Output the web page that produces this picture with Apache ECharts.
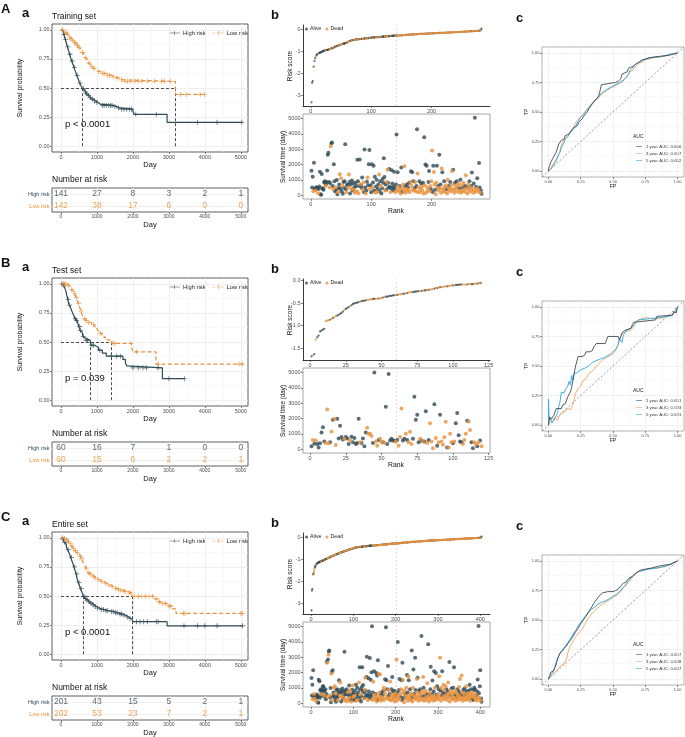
<!DOCTYPE html>
<html><head><meta charset="utf-8">
<script src="https://cdn.jsdelivr.net/npm/echarts@6/dist/echarts.min.js"></script>
<style>html,body{margin:0;padding:0;background:#fff;}#chart{width:685px;height:737px;}</style>
</head><body><div id="chart"></div>
<script>
// ---------------- DATA ----------------
const kmTitles = ['Training set', 'Test set', 'Entire set'];
const pLabels = ['p < 0.0001', 'p = 0.039', 'p < 0.0001'];
const medianHigh = [600, 815, 625];
const medianLow = [3180, 1410, 1980];
const cutRank = [141.5, 60.5, 202.5];
const riskTableTimes = [0, 1000, 2000, 3000, 4000, 5000];
const atRiskHighA = [141, 27, 8, 3, 2, 1], atRiskLowA = [142, 38, 17, 6, 0, 0];
const atRiskHighB = [60, 16, 7, 1, 0, 0], atRiskLowB = [60, 15, 6, 2, 2, 1];
const atRiskHighC = [201, 43, 15, 5, 2, 1], atRiskLowC = [202, 53, 23, 7, 2, 1];
const kmXTicks = [0, 1000, 2000, 3000, 4000, 5000];
const kmYTicks = [0, 0.25, 0.5, 0.75, 1];
const survTicks = [0, 1000, 2000, 3000, 4000, 5000];
const rocTicks = [0, 0.25, 0.5, 0.75, 1];
const rankTicksA = [0, 100, 200], rankTicksB = [0, 25, 50, 75, 100, 125], rankTicksC = [0, 100, 200, 300, 400];
const riskTicksA = [-3, -2, -1, 0], riskTicksB = [-1.5, -1, -0.5, 0], riskTicksC = [-3, -2, -1, 0];
const rocYears = [1, 3, 5];
const aucA = ['0.666', '0.657', '0.652'], aucB = ['0.651', '0.593', '0.631'], aucC = ['0.657', '0.638', '0.647'];

const kmHighA = [[0,1],[20,0.993],[40,0.986],[60,0.972],[80,0.958],[100,0.937],[120,0.916],[140,0.895],[160,0.874],[180,0.853],[200,0.832],[220,0.81],[240,0.79],[260,0.77],[280,0.75],[300,0.732],[320,0.714],[340,0.696],[360,0.678],[380,0.66],[400,0.643],[420,0.626],[440,0.609],[460,0.592],[480,0.575],[500,0.558],[520,0.542],[545,0.526],[570,0.51],[600,0.495],[630,0.48],[660,0.465],[700,0.45],[740,0.435],[790,0.42],[840,0.405],[900,0.39],[960,0.375],[1030,0.362],[1090,0.35],[1470,0.34],[1560,0.33],[1620,0.318],[2000,0.3],[2030,0.274],[2950,0.205],[5030,0.205]];
const censorHighA = [[90,0.958],[130,0.916],[190,0.853],[250,0.79],[310,0.732],[370,0.678],[450,0.609],[530,0.542],[620,0.495],[680,0.465],[720,0.45],[760,0.435],[810,0.42],[870,0.405],[930,0.39],[1000,0.375],[1150,0.35],[1200,0.35],[1260,0.35],[1330,0.35],[1380,0.35],[1420,0.35],[1500,0.34],[1600,0.33],[1680,0.318],[1750,0.318],[1830,0.318],[1900,0.318],[1960,0.318],[2080,0.274],[2650,0.274],[3800,0.205],[4340,0.205],[5030,0.205]];
const kmLowA = [[0,1],[60,0.993],[100,0.979],[150,0.965],[190,0.951],[220,0.937],[260,0.923],[300,0.909],[350,0.895],[400,0.88],[440,0.865],[480,0.85],[520,0.835],[550,0.82],[580,0.805],[610,0.79],[640,0.775],[670,0.76],[700,0.745],[730,0.73],[760,0.715],[800,0.7],[840,0.685],[890,0.67],[940,0.655],[1000,0.64],[1100,0.625],[1250,0.61],[1400,0.595],[1500,0.585],[1620,0.57],[1720,0.557],[3180,0.445],[3990,0.445]];
const censorLowA = [[40,1],[130,0.979],[170,0.965],[240,0.937],[280,0.923],[330,0.909],[380,0.895],[420,0.88],[460,0.865],[500,0.85],[600,0.805],[690,0.76],[780,0.715],[860,0.685],[920,0.67],[1050,0.64],[1150,0.625],[1200,0.625],[1300,0.61],[1350,0.61],[1450,0.595],[1560,0.585],[1680,0.57],[1780,0.557],[1850,0.557],[1930,0.557],[2050,0.557],[2150,0.557],[2250,0.557],[2400,0.557],[2600,0.557],[2800,0.557],[2880,0.557],[3050,0.557],[3320,0.445],[3480,0.445],[3870,0.445],[3990,0.445]];

const kmHighB = [[0,1],[60,0.983],[100,0.967],[120,0.95],[140,0.933],[160,0.9],[175,0.883],[190,0.867],[210,0.833],[230,0.817],[260,0.8],[280,0.783],[300,0.767],[330,0.75],[350,0.733],[370,0.717],[390,0.7],[420,0.683],[450,0.667],[480,0.65],[500,0.633],[530,0.6],[560,0.583],[590,0.566],[610,0.549],[640,0.532],[680,0.515],[815,0.497],[830,0.472],[930,0.455],[1040,0.43],[1150,0.405],[1260,0.378],[1720,0.35],[1790,0.322],[1830,0.294],[1870,0.278],[2820,0.185],[3430,0.185]];
const censorHighB = [[30,1],[80,0.983],[200,0.867],[240,0.817],[400,0.7],[430,0.683],[520,0.633],[545,0.6],[620,0.549],[700,0.515],[730,0.515],[860,0.472],[900,0.472],[1080,0.43],[1400,0.378],[1550,0.378],[1650,0.378],[2000,0.278],[2150,0.278],[2280,0.278],[2380,0.278],[2700,0.278],[3000,0.185],[3430,0.185]];
const kmLowB = [[0,1],[170,0.983],[240,0.966],[280,0.95],[320,0.933],[360,0.916],[400,0.9],[420,0.883],[440,0.866],[460,0.85],[480,0.833],[500,0.816],[520,0.8],[535,0.783],[550,0.766],[570,0.75],[590,0.733],[610,0.716],[640,0.7],[680,0.683],[720,0.666],[850,0.648],[940,0.63],[1000,0.612],[1040,0.594],[1080,0.575],[1140,0.556],[1200,0.537],[1260,0.518],[1410,0.489],[1960,0.455],[2000,0.415],[2640,0.31],[5050,0.31]];
const censorLowB = [[60,1],[100,1],[140,1],[200,0.983],[300,0.95],[380,0.916],[430,0.883],[490,0.833],[560,0.766],[660,0.7],[700,0.683],[760,0.666],[900,0.648],[1100,0.575],[1450,0.489],[1500,0.489],[1950,0.489],[2100,0.415],[2700,0.31],[4950,0.31],[5050,0.31]];

const kmHighC = [[0,1],[30,0.99],[60,0.975],[90,0.96],[120,0.945],[150,0.92],[180,0.9],[210,0.88],[240,0.86],[270,0.83],[300,0.805],[330,0.78],[360,0.75],[390,0.72],[420,0.69],[450,0.645],[480,0.615],[510,0.59],[540,0.565],[570,0.54],[600,0.52],[625,0.498],[660,0.48],[700,0.465],[750,0.452],[800,0.44],[860,0.425],[920,0.41],[990,0.395],[1080,0.383],[1200,0.373],[1350,0.365],[1480,0.355],[1600,0.345],[1720,0.335],[1800,0.32],[1880,0.305],[1960,0.29],[2010,0.279],[2950,0.244],[5050,0.244]];
const censorHighC = [[50,0.99],[110,0.96],[200,0.9],[290,0.83],[380,0.75],[440,0.69],[500,0.615],[560,0.565],[640,0.498],[680,0.48],[720,0.465],[780,0.452],[830,0.44],[890,0.425],[950,0.41],[1020,0.395],[1120,0.383],[1180,0.383],[1250,0.373],[1300,0.373],[1400,0.365],[1450,0.365],[1520,0.355],[1560,0.355],[1640,0.345],[1680,0.345],[1750,0.335],[1840,0.32],[1920,0.305],[2100,0.279],[2200,0.279],[2300,0.279],[2400,0.279],[2650,0.279],[2700,0.279],[3420,0.244],[3800,0.244],[4000,0.244],[4340,0.244],[5050,0.244]];
const kmLowC = [[0,1],[80,0.995],[130,0.985],[180,0.97],[230,0.95],[280,0.93],[330,0.91],[380,0.89],[430,0.87],[480,0.855],[520,0.84],[560,0.82],[600,0.8],[630,0.78],[660,0.76],[690,0.74],[720,0.72],[750,0.7],[800,0.685],[860,0.67],[920,0.655],[990,0.64],[1080,0.625],[1180,0.61],[1280,0.595],[1380,0.58],[1470,0.565],[1560,0.552],[1700,0.54],[1850,0.525],[1980,0.497],[2600,0.475],[2700,0.45],[2780,0.435],[2950,0.414],[3100,0.39],[3200,0.35],[5050,0.35]];
const censorLowC = [[40,1],[100,0.995],[150,0.985],[200,0.97],[260,0.95],[310,0.93],[350,0.91],[400,0.89],[460,0.87],[540,0.84],[580,0.82],[710,0.74],[780,0.7],[830,0.685],[900,0.67],[950,0.655],[1030,0.64],[1130,0.625],[1230,0.61],[1330,0.595],[1420,0.58],[1520,0.565],[1600,0.552],[1650,0.552],[1750,0.54],[1800,0.54],[1900,0.525],[1950,0.525],[2050,0.497],[2150,0.497],[2250,0.497],[2350,0.497],[2450,0.497],[2550,0.497],[2650,0.475],[2740,0.45],[2830,0.435],[2900,0.435],[3000,0.414],[3050,0.414],[3400,0.35],[3450,0.35],[5000,0.35],[5050,0.35]];

const riskScoreA = [
-3.33,-2.44,-2.36,-1.72,-1.70,-1.45,-1.33,-1.25,-1.20,-1.16,
-1.13,-1.11,-1.10,-1.08,-1.07,-1.06,-1.05,-1.03,-1.02,-1.00,
-0.99,-0.98,-0.97,-0.97,-0.96,-0.95,-0.95,-0.94,-0.93,-0.92,
-0.91,-0.90,-0.89,-0.88,-0.87,-0.86,-0.85,-0.84,-0.82,-0.80,
-0.79,-0.78,-0.77,-0.76,-0.75,-0.74,-0.73,-0.72,-0.71,-0.70,
-0.69,-0.68,-0.67,-0.66,-0.66,-0.65,-0.64,-0.63,-0.62,-0.61,
-0.59,-0.57,-0.56,-0.54,-0.53,-0.52,-0.51,-0.51,-0.50,-0.50,
-0.49,-0.49,-0.48,-0.48,-0.47,-0.47,-0.47,-0.46,-0.46,-0.46,
-0.45,-0.45,-0.45,-0.44,-0.44,-0.44,-0.43,-0.43,-0.43,-0.42,
-0.42,-0.42,-0.42,-0.41,-0.41,-0.41,-0.40,-0.40,-0.40,-0.39,
-0.39,-0.39,-0.38,-0.38,-0.38,-0.38,-0.37,-0.37,-0.37,-0.37,
-0.36,-0.36,-0.36,-0.36,-0.35,-0.35,-0.35,-0.35,-0.34,-0.34,
-0.34,-0.34,-0.33,-0.33,-0.33,-0.33,-0.33,-0.32,-0.32,-0.32,
-0.32,-0.31,-0.31,-0.31,-0.31,-0.31,-0.30,-0.30,-0.30,-0.30,
-0.30,-0.30,-0.29,-0.29,-0.29,-0.29,-0.29,-0.28,-0.28,-0.28,
-0.28,-0.28,-0.27,-0.27,-0.27,-0.27,-0.26,-0.26,-0.26,-0.26,
-0.26,-0.25,-0.25,-0.25,-0.25,-0.25,-0.24,-0.24,-0.24,-0.24,
-0.24,-0.235,-0.235,-0.23,-0.23,-0.23,-0.23,-0.225,-0.225,-0.22,
-0.22,-0.22,-0.22,-0.215,-0.215,-0.215,-0.21,-0.21,-0.21,-0.21,
-0.205,-0.205,-0.205,-0.20,-0.20,-0.20,-0.20,-0.20,-0.195,-0.195,
-0.195,-0.19,-0.19,-0.19,-0.19,-0.185,-0.185,-0.185,-0.18,-0.18,
-0.18,-0.18,-0.175,-0.175,-0.175,-0.17,-0.17,-0.17,-0.17,-0.165,
-0.165,-0.165,-0.16,-0.16,-0.16,-0.16,-0.155,-0.155,-0.155,-0.15,
-0.15,-0.15,-0.15,-0.145,-0.145,-0.145,-0.14,-0.14,-0.14,-0.14,
-0.135,-0.135,-0.135,-0.13,-0.13,-0.13,-0.13,-0.125,-0.125,-0.125,
-0.12,-0.12,-0.12,-0.115,-0.115,-0.115,-0.11,-0.11,-0.11,-0.105,
-0.105,-0.105,-0.10,-0.10,-0.10,-0.095,-0.095,-0.095,-0.09,-0.09,
-0.09,-0.085,-0.085,-0.085,-0.08,-0.08,-0.08,-0.075,-0.075,-0.07,
-0.06,-0.04,0.02];
const survTimeA = [
1590,500,1200,250,2110,420,380,300,520,450,
480,120,400,560,1520,60,30,1380,450,420,
350,820,900,600,700,860,1600,2640,2760,850,
500,780,3200,3370,3430,600,400,2020,900,250,
520,350,980,60,180,470,700,1370,420,1100,
250,620,80,850,480,900,3330,380,180,700,
650,500,1350,850,100,700,420,950,300,780,
350,520,150,800,600,250,2310,900,120,600,
2330,700,650,480,1150,350,820,200,2980,500,
100,300,880,1150,650,2020,2940,400,650,180,
2020,500,820,1910,300,1200,150,560,1000,200,
400,700,1350,250,900,600,100,450,1050,800,
2410,1180,300,700,350,850,1650,800,500,1700,
550,200,450,1620,760,300,550,1530,450,200,
700,3960,300,1500,550,250,600,400,100,1800,
200,450,700,300,1880,600,150,400,700,250,
500,350,800,200,850,1560,600,1500,350,900,
300,450,850,250,600,4300,1410,180,500,900,
200,400,750,550,300,800,100,3780,650,2000,
150,1910,500,300,850,1580,250,600,400,900,
2920,200,1910,1510,700,350,50,800,1920,500,
600,300,2630,450,700,150,1740,1500,400,250,
900,550,200,650,380,100,1000,500,600,300,
850,450,250,1580,700,1650,400,150,800,350,
550,900,600,200,750,450,300,1000,150,650,
250,480,800,380,600,200,1300,450,550,100,
700,350,900,250,500,600,1480,400,150,750,
300,5050,200,550,450,1100,350,250,2090,500,
150,300,80];
// 0 = alive, 1 = dead
const statusA = ('0001000100 0100000000 0001000000 1010001000 1000100101 0100000010 0110001000 1010010010 0100011000 1001000100 ' +
'0100001001 0010010000 0010011000 0100000001 0010110110 0111101101 0101101010 1011001110 1101101010 1011001101 ' +
'1001101101 0101011011 0111011101 0111101101 1011101011 1011011101 1101100110 1010101100 100').replace(/ /g, '');

const riskScoreB = [
-1.68,-1.66,-1.63,-1.31,-1.26,-1.22,-1.13,-1.11,-1.09,-1.07,
-0.90,-0.89,-0.88,-0.87,-0.85,-0.83,-0.81,-0.79,-0.78,-0.76,
-0.74,-0.72,-0.69,-0.65,-0.63,-0.61,-0.59,-0.57,-0.55,-0.52,
-0.51,-0.50,-0.49,-0.48,-0.47,-0.46,-0.45,-0.45,-0.44,-0.43,
-0.43,-0.42,-0.42,-0.41,-0.41,-0.41,-0.40,-0.40,-0.40,-0.39,
-0.38,-0.37,-0.36,-0.36,-0.35,-0.34,-0.34,-0.33,-0.33,-0.32,
-0.32,-0.31,-0.31,-0.30,-0.30,-0.29,-0.29,-0.28,-0.27,-0.26,
-0.26,-0.26,-0.25,-0.25,-0.24,-0.24,-0.24,-0.23,-0.23,-0.22,
-0.22,-0.21,-0.21,-0.20,-0.20,-0.19,-0.18,-0.17,-0.17,-0.16,
-0.15,-0.15,-0.14,-0.14,-0.13,-0.13,-0.12,-0.12,-0.11,-0.11,
-0.11,-0.10,-0.10,-0.10,-0.09,-0.09,-0.09,-0.09,-0.09,-0.09,
-0.08,-0.08,-0.08,-0.08,-0.07,-0.07,-0.07,-0.06,-0.06,-0.05];
const survTimeB = [
180,600,350,560,340,110,380,1080,1420,500,
400,2590,380,450,1150,1910,1960,270,1980,700,
1530,790,620,680,790,700,340,560,800,450,
720,340,400,1980,450,400,700,180,1080,1400,
1010,1000,860,400,5000,500,220,600,680,450,
450,420,2770,340,4910,560,680,560,540,500,
600,220,790,2660,560,680,1010,600,450,1130,
340,680,3420,1910,2250,450,680,560,500,500,
2480,400,600,1690,500,50,2930,720,220,450,
2250,500,290,770,1790,100,110,1010,450,380,
500,1690,2360,900,500,450,340,600,1000,1850,
1800,1240,450,50,450,340,180,450,560,180];
const statusB = ('0101000000 1110101100 0001000100 0000100001 1110011011 0100000001 0111001011 1000001010 0101110101 0111101110 ' +
'1000001110 1100110101').replace(/ /g, '');

const riskScoreC = [
-3.33,-2.43,-2.36,-1.71,-1.69,-1.65,-1.55,-1.45,-1.38,-1.32,
-1.28,-1.25,-1.22,-1.20,-1.19,-1.18,-1.16,-1.15,-1.14,-1.13,
-1.12,-1.11,-1.10,-1.10,-1.09,-1.08,-1.07,-1.07,-1.06,-1.05,
-1.04,-1.03,-1.02,-1.01,-1.00,-0.99,-0.98,-0.98,-0.97,-0.96,
-0.95,-0.94,-0.93,-0.92,-0.91,-0.90,-0.89,-0.88,-0.87,-0.86,
-0.85,-0.85,-0.84,-0.83,-0.83,-0.82,-0.81,-0.80,-0.79,-0.78,
-0.77,-0.77,-0.76,-0.75,-0.74,-0.74,-0.73,-0.72,-0.71,-0.70,
-0.69,-0.69,-0.68,-0.67,-0.67,-0.66,-0.65,-0.65,-0.64,-0.63,
-0.62,-0.62,-0.61,-0.61,-0.60,-0.60,-0.59,-0.58,-0.58,-0.57,
-0.56,-0.56,-0.55,-0.55,-0.54,-0.53,-0.53,-0.52,-0.52,-0.51,
-0.50,-0.50,-0.49,-0.49,-0.48,-0.48,-0.47,-0.47,-0.46,-0.46,
-0.46,-0.46,-0.45,-0.45,-0.45,-0.45,-0.44,-0.44,-0.44,-0.44,
-0.43,-0.43,-0.43,-0.43,-0.42,-0.42,-0.42,-0.42,-0.42,-0.41,
-0.41,-0.41,-0.41,-0.41,-0.40,-0.40,-0.40,-0.40,-0.40,-0.40,
-0.39,-0.39,-0.39,-0.39,-0.39,-0.39,-0.39,-0.38,-0.38,-0.38,
-0.38,-0.38,-0.37,-0.37,-0.37,-0.37,-0.37,-0.36,-0.36,-0.36,
-0.36,-0.36,-0.35,-0.35,-0.35,-0.35,-0.35,-0.34,-0.34,-0.34,
-0.34,-0.34,-0.34,-0.33,-0.33,-0.33,-0.33,-0.33,-0.32,-0.32,
-0.32,-0.32,-0.32,-0.32,-0.31,-0.31,-0.31,-0.31,-0.31,-0.31,
-0.30,-0.30,-0.30,-0.30,-0.30,-0.30,-0.30,-0.29,-0.29,-0.29,
-0.29,-0.29,-0.29,-0.28,-0.28,-0.28,-0.28,-0.28,-0.27,-0.27,
-0.27,-0.27,-0.27,-0.26,-0.26,-0.26,-0.26,-0.26,-0.25,-0.25,
-0.25,-0.25,-0.25,-0.25,-0.24,-0.24,-0.24,-0.24,-0.24,-0.23,
-0.23,-0.23,-0.23,-0.23,-0.23,-0.22,-0.22,-0.22,-0.22,-0.22,
-0.22,-0.21,-0.21,-0.21,-0.21,-0.21,-0.21,-0.21,-0.20,-0.20,
-0.20,-0.20,-0.20,-0.20,-0.20,-0.19,-0.19,-0.19,-0.19,-0.19,
-0.19,-0.19,-0.18,-0.18,-0.18,-0.18,-0.18,-0.18,-0.18,-0.17,
-0.17,-0.17,-0.17,-0.17,-0.17,-0.17,-0.17,-0.16,-0.16,-0.16,
-0.16,-0.16,-0.16,-0.16,-0.16,-0.16,-0.15,-0.15,-0.15,-0.15,
-0.15,-0.15,-0.15,-0.15,-0.15,-0.14,-0.14,-0.14,-0.14,-0.14,
-0.14,-0.14,-0.14,-0.13,-0.13,-0.13,-0.13,-0.13,-0.13,-0.13,
-0.13,-0.12,-0.12,-0.12,-0.12,-0.12,-0.12,-0.12,-0.12,-0.12,
-0.11,-0.11,-0.11,-0.11,-0.11,-0.11,-0.11,-0.11,-0.11,-0.10,
-0.10,-0.10,-0.10,-0.10,-0.10,-0.10,-0.10,-0.10,-0.10,-0.09,
-0.09,-0.09,-0.09,-0.09,-0.09,-0.09,-0.09,-0.09,-0.09,-0.09,
-0.09,-0.08,-0.08,-0.08,-0.08,-0.08,-0.08,-0.08,-0.08,-0.08,
-0.08,-0.07,-0.07,-0.07,-0.07,-0.07,-0.07,-0.07,-0.07,-0.07,
-0.06,-0.06,-0.06,-0.06,-0.06,-0.06,-0.06,-0.06,-0.06,-0.05,
-0.05,-0.05,-0.05,-0.05,-0.05,-0.05,-0.05,-0.04,-0.04,-0.04,
-0.04,-0.04,-0.04,-0.04,-0.04,-0.03,-0.03,-0.03,-0.03,-0.03,
-0.02,-0.01,0.02];
const survTimeC = [
1640,500,1200,250,2150,420,600,300,380,450,
480,120,400,560,350,60,30,1530,450,1430,
350,820,900,600,700,860,480,1100,1080,850,
500,780,400,900,250,600,2700,2640,400,2850,
3160,3380,3440,520,350,980,60,1930,2040,180,
2150,470,700,1000,420,1100,250,620,80,850,
480,900,380,180,700,1500,650,500,1350,850,
100,700,420,950,300,780,350,520,3350,150,
800,600,250,900,120,600,700,650,480,1150,
350,820,200,500,100,300,880,1150,650,400,
650,180,500,820,300,1200,150,560,1000,200,
400,700,1350,250,2350,900,600,100,450,1050,
2350,800,1180,300,700,350,850,1650,800,500,
1700,3030,550,200,450,1620,760,300,2940,550,
1530,450,2020,5020,200,700,1400,300,2080,550,
250,600,400,1970,100,1800,200,2800,450,1900,
700,300,1880,600,150,400,700,250,500,350,
800,1000,200,850,1560,600,4960,1500,350,900,
300,2430,450,850,250,600,1410,180,500,900,
200,1710,400,750,550,300,800,100,650,500,
400,2850,150,700,3990,500,300,850,1580,250,
600,400,900,1500,200,2630,1510,700,350,50,
800,500,600,300,1000,450,1840,700,150,1740,
1500,400,250,900,550,200,650,3440,380,100,
1000,2190,500,600,300,2960,850,450,250,1580,
700,1650,400,150,800,350,550,900,600,200,
4390,750,450,300,1710,1000,150,650,250,480,
800,380,600,200,1300,450,3840,550,100,700,
350,900,2370,250,500,600,1480,400,150,750,
2080,300,1000,200,1970,550,450,1100,350,250,
600,900,1750,400,2960,800,150,1000,500,2080,
300,700,1200,450,850,250,600,1100,380,900,
550,200,750,1350,400,650,2680,100,500,800,
300,950,450,600,250,1000,700,2350,350,550,
150,800,400,650,300,900,500,200,750,1050,
450,1580,600,350,250,1800,700,500,150,850,
400,600,950,300,550,200,1100,750,450,650,
250,800,350,500,1200,150,600,900,400,300,
700,550,200,850,450,1000,300,880,600,250,
500,150,750,1540,400,5040,650,300,1100,2150,
150,300,80];
const statusC = ('0001001100 0100000000 0001000000 1000000110 1001000101 0001010100 0001000110 0010001001 0010101000 1100100101 ' +
'0010001001 0010001000 0001001100 0001000000 0000101101 1010100011 1110110101 0111010010 1001101110 1010110110 ' +
'1110011001 1010001101 1101110011 0110111001 1010100111 1011011011 0101101110 1101110011 1001100110 0111001011 ' +
'1011101100 1011110110 1101110101 1011101010 1101101101 1101111010 1101011011 1011011010 1100101011 0100100100 100').replace(/ /g, '');

const rocA1 = [[0,0],[0,0.02],[0.01,0.05],[0.02,0.05],[0.02,0.08],[0.03,0.08],[0.04,0.12],[0.05,0.11],[0.06,0.16],[0.07,0.17],[0.08,0.23],[0.09,0.22],[0.10,0.26],[0.12,0.27],[0.13,0.30],[0.15,0.31],[0.17,0.33],[0.18,0.35],[0.20,0.37],[0.22,0.38],[0.24,0.42],[0.26,0.44],[0.27,0.46],[0.30,0.50],[0.32,0.54],[0.34,0.57],[0.36,0.60],[0.38,0.62],[0.39,0.64],[0.40,0.68],[0.41,0.73],[0.46,0.74],[0.52,0.75],[0.54,0.76],[0.56,0.78],[0.57,0.82],[0.59,0.83],[0.61,0.84],[0.62,0.87],[0.64,0.88],[0.66,0.89],[0.68,0.91],[0.70,0.92],[0.73,0.94],[0.78,0.96],[0.85,0.97],[0.93,0.98],[0.97,0.99],[1,1]];
const rocA3 = [[0,0],[0.01,0.01],[0.02,0.03],[0.03,0.03],[0.05,0.08],[0.06,0.09],[0.08,0.15],[0.09,0.17],[0.10,0.22],[0.11,0.21],[0.13,0.28],[0.15,0.30],[0.17,0.33],[0.19,0.36],[0.21,0.41],[0.22,0.40],[0.24,0.45],[0.27,0.47],[0.29,0.51],[0.32,0.55],[0.34,0.58],[0.36,0.60],[0.38,0.61],[0.40,0.64],[0.45,0.68],[0.48,0.70],[0.50,0.71],[0.53,0.73],[0.55,0.74],[0.57,0.75],[0.59,0.78],[0.61,0.80],[0.63,0.84],[0.65,0.85],[0.66,0.87],[0.68,0.89],[0.70,0.91],[0.75,0.94],[0.82,0.96],[0.90,0.97],[0.96,0.99],[1,1]];
const rocA5 = [[0,0],[0.01,0.01],[0.02,0.02],[0.04,0.05],[0.05,0.07],[0.07,0.11],[0.08,0.14],[0.09,0.16],[0.10,0.20],[0.11,0.19],[0.12,0.24],[0.13,0.27],[0.15,0.29],[0.17,0.33],[0.19,0.35],[0.21,0.38],[0.23,0.42],[0.25,0.46],[0.27,0.48],[0.29,0.51],[0.31,0.53],[0.33,0.56],[0.35,0.58],[0.37,0.61],[0.39,0.63],[0.41,0.66],[0.45,0.69],[0.50,0.72],[0.55,0.75],[0.58,0.77],[0.60,0.79],[0.62,0.82],[0.63,0.85],[0.65,0.87],[0.67,0.90],[0.70,0.92],[0.72,0.94],[0.80,0.96],[0.88,0.97],[0.95,0.99],[1,1]];
const rocB1 = [[0,0],[0.01,0.07],[0.02,0.05],[0.04,0.08],[0.05,0.08],[0.06,0.14],[0.10,0.14],[0.11,0.17],[0.13,0.18],[0.15,0.24],[0.17,0.28],[0.18,0.32],[0.19,0.38],[0.20,0.44],[0.21,0.50],[0.23,0.58],[0.26,0.58],[0.28,0.59],[0.29,0.62],[0.32,0.62],[0.34,0.63],[0.35,0.66],[0.37,0.69],[0.44,0.69],[0.45,0.72],[0.46,0.75],[0.54,0.75],[0.55,0.72],[0.56,0.75],[0.57,0.78],[0.59,0.80],[0.64,0.82],[0.65,0.85],[0.66,0.87],[0.83,0.89],[0.84,0.92],[0.96,0.93],[0.97,0.96],[0.98,0.97],[0.99,0.95],[1,1]];
const rocB3 = [[0,0],[0.01,0.03],[0.02,0.02],[0.03,0.05],[0.05,0.06],[0.07,0.04],[0.09,0.09],[0.12,0.11],[0.15,0.14],[0.17,0.13],[0.19,0.17],[0.20,0.22],[0.21,0.27],[0.23,0.31],[0.25,0.33],[0.27,0.38],[0.29,0.39],[0.31,0.43],[0.33,0.45],[0.36,0.48],[0.38,0.51],[0.42,0.55],[0.45,0.57],[0.48,0.59],[0.50,0.60],[0.52,0.63],[0.54,0.68],[0.55,0.73],[0.57,0.77],[0.60,0.79],[0.63,0.80],[0.66,0.83],[0.68,0.88],[0.72,0.90],[0.76,0.91],[0.80,0.90],[0.86,0.90],[0.92,0.92],[0.96,0.93],[0.98,0.96],[1,1]];
const rocB5 = [[0,0],[0,0.22],[0.005,0.06],[0.02,0.04],[0.03,0.02],[0.05,0.06],[0.07,0.10],[0.08,0.16],[0.09,0.20],[0.10,0.28],[0.12,0.27],[0.13,0.30],[0.15,0.33],[0.16,0.37],[0.17,0.34],[0.18,0.42],[0.19,0.38],[0.20,0.44],[0.22,0.44],[0.25,0.47],[0.28,0.48],[0.31,0.50],[0.34,0.53],[0.38,0.55],[0.43,0.57],[0.48,0.60],[0.52,0.64],[0.54,0.68],[0.55,0.73],[0.57,0.70],[0.58,0.76],[0.60,0.80],[0.64,0.82],[0.67,0.86],[0.70,0.89],[0.78,0.90],[0.86,0.91],[0.92,0.92],[0.96,0.93],[0.98,0.96],[1,1]];
const rocC1 = [[0,0],[0.01,0.03],[0.02,0.06],[0.04,0.07],[0.05,0.10],[0.06,0.14],[0.07,0.17],[0.08,0.16],[0.09,0.22],[0.11,0.24],[0.12,0.26],[0.14,0.28],[0.15,0.30],[0.17,0.33],[0.19,0.36],[0.21,0.40],[0.23,0.43],[0.25,0.47],[0.27,0.50],[0.29,0.53],[0.31,0.57],[0.33,0.60],[0.35,0.64],[0.37,0.67],[0.39,0.70],[0.42,0.73],[0.46,0.74],[0.50,0.74],[0.52,0.75],[0.54,0.76],[0.56,0.79],[0.58,0.81],[0.60,0.82],[0.62,0.85],[0.65,0.87],[0.68,0.90],[0.71,0.92],[0.75,0.93],[0.80,0.94],[0.87,0.96],[0.94,0.97],[1,1]];
const rocC3 = [[0,0],[0.02,0.02],[0.04,0.04],[0.06,0.07],[0.08,0.09],[0.10,0.12],[0.12,0.13],[0.14,0.17],[0.15,0.22],[0.16,0.26],[0.18,0.30],[0.20,0.34],[0.22,0.37],[0.24,0.40],[0.26,0.42],[0.28,0.46],[0.30,0.50],[0.32,0.53],[0.34,0.56],[0.36,0.58],[0.38,0.60],[0.41,0.63],[0.44,0.65],[0.47,0.67],[0.50,0.69],[0.53,0.71],[0.56,0.74],[0.58,0.77],[0.60,0.79],[0.62,0.82],[0.64,0.85],[0.67,0.88],[0.70,0.91],[0.76,0.93],[0.82,0.94],[0.90,0.95],[0.95,0.97],[1,1]];
const rocC5 = [[0,0],[0.01,0.02],[0.03,0.05],[0.05,0.10],[0.06,0.12],[0.07,0.17],[0.08,0.16],[0.09,0.22],[0.10,0.24],[0.12,0.26],[0.13,0.28],[0.15,0.31],[0.17,0.34],[0.19,0.38],[0.21,0.41],[0.23,0.45],[0.25,0.48],[0.27,0.51],[0.29,0.54],[0.31,0.56],[0.33,0.59],[0.36,0.61],[0.38,0.63],[0.41,0.65],[0.44,0.66],[0.47,0.68],[0.50,0.70],[0.53,0.72],[0.56,0.75],[0.58,0.78],[0.60,0.80],[0.62,0.83],[0.65,0.87],[0.68,0.90],[0.70,0.91],[0.77,0.93],[0.85,0.94],[0.92,0.96],[1,1]];

// ---------------- STYLE / LAYOUT ----------------
const FONT = '"Liberation Sans", Arial, Helvetica, sans-serif';
const DARK = '#2f4a54', ORANGE = '#e8913c', CYAN = '#2ba8e0', ROC1 = '#3e4b53', ROC3 = '#f0a567';
const ROC_COLORS = [ROC1, ROC3, CYAN];
const CROSS = 'path://M-0.16,-1H0.16V-0.16H1V0.16H0.16V1H-0.16V0.16H-1V-0.16H-0.16Z';
const ICON_H = 'path://M0,4.5H24V5.5H0ZM11.4,1H12.6V9H11.4Z';
const ICON_L = 'path://M0,4.5H5V5.5H0ZM8,4.5H13V5.5H8ZM16,4.5H21V5.5H16ZM11.4,1H12.6V9H11.4Z';
const ICON_LINE = 'path://M0,0H20V2H0Z';

const rows = [
  {letter:'A', kmH:kmHighA, kmL:kmLowA, cH:censorHighA, cL:censorLowA, atH:atRiskHighA, atL:atRiskLowA, risk:riskScoreA, surv:survTimeA, status:statusA, rankTicks:rankTicksA, riskTicks:riskTicksA, roc:[rocA1,rocA3,rocA5], auc:aucA},
  {letter:'B', kmH:kmHighB, kmL:kmLowB, cH:censorHighB, cL:censorLowB, atH:atRiskHighB, atL:atRiskLowB, risk:riskScoreB, surv:survTimeB, status:statusB, rankTicks:rankTicksB, riskTicks:riskTicksB, roc:[rocB1,rocB3,rocB5], auc:aucB},
  {letter:'C', kmH:kmHighC, kmL:kmLowC, cH:censorHighC, cL:censorLowC, atH:atRiskHighC, atL:atRiskLowC, risk:riskScoreC, surv:survTimeC, status:statusC, rankTicks:rankTicksC, riskTicks:riskTicksC, roc:[rocC1,rocC3,rocC5], auc:aucC}
];
const layout = [
  {o:0,   rank:[-13.1, 297.1],  risk:[-3.4975, 0.1875], riskDec:0},
  {o:254, rank:[-4.95, 125.95], risk:[-1.7615, 0.0315], riskDec:1},
  {o:508, rank:[-19.1, 423.1],  risk:[-3.4975, 0.1875], riskDec:0}
];

const grids = [], xAxes = [], yAxes = [], series = [], legends = [], graphics = [];
function mids(t) { return t.slice(1).map((v, i) => (v + t[i]) / 2); }
function addGrid(g, border) {
  grids.push(Object.assign({show: !!border, borderColor: border || 'transparent', borderWidth: border ? 0.9 : 0, backgroundColor: 'transparent'}, g));
  return grids.length - 1;
}
function numAxis(gi, min, max, ticks, fmt, lineColor, labelSize, margin) {
  return {
    type: 'value', gridIndex: gi, min: min, max: max,
    splitLine: {show: false},
    axisLine: lineColor ? {show: true, onZero: false, lineStyle: {color: lineColor, width: 0.9}} : {show: false, onZero: false},
    axisTick: {show: true, customValues: ticks, length: 2, lineStyle: {color: '#333', width: 0.6}},
    axisLabel: {show: true, customValues: ticks, formatter: fmt, fontSize: labelSize || 5.5, color: '#4d4d4d', margin: margin || 2.5, fontFamily: FONT}
  };
}
function gridLines(gi, xVals, yVals, color, width) {
  series.push({type: 'line', xAxisIndex: gi, yAxisIndex: gi, data: [], silent: true, z: 1,
    markLine: {silent: true, symbol: ['none', 'none'], label: {show: false}, animation: false,
      lineStyle: {color: color, width: width, type: 'solid'},
      emphasis: {disabled: true},
      data: xVals.map(v => ({xAxis: v})).concat(yVals.map(v => ({yAxis: v})))}});
}
function refLines(gi, pairs, color, width, dash, z) {
  series.push({type: 'line', xAxisIndex: gi, yAxisIndex: gi, data: [], silent: true, z: z || 4,
    markLine: {silent: true, symbol: ['none', 'none'], label: {show: false}, animation: false,
      lineStyle: {color: color, width: width, type: dash},
      emphasis: {disabled: true},
      data: pairs}});
}
function txt(text, x, y, size, opts) {
  opts = opts || {};
  graphics.push({type: 'text', x: x, y: y, rotation: opts.rot || 0, silent: true, z: 100,
    style: {text: text, font: (opts.bold ? 'bold ' : '') + size + 'px ' + FONT, fill: opts.color || '#111',
      align: opts.align || 'left', verticalAlign: 'middle', textAlign: opts.align || 'left', textVerticalAlign: 'middle'}});
}

rows.forEach((R, ri) => {
  const L = layout[ri], o = L.o;
  // ---- panel labels
  txt(R.letter, 1, 9 + o, 13, {bold: true});
  txt('a', 22, 13 + o, 13, {bold: true});
  txt('b', 271, 15.5 + o, 13, {bold: true});
  txt('c', 516, 18.5 + o, 13, {bold: true});

  // ---- KM plot
  const gK = addGrid({left: 52, top: 24 + o, width: 196, height: 128}, '#4d4d4d');
  xAxes.push(numAxis(gK, -250, 5200, kmXTicks, v => String(v), null, 5.5));
  yAxes.push(numAxis(gK, -0.05, 1.05, kmYTicks, v => v.toFixed(2), null, 5.5));
  gridLines(gK, kmXTicks, kmYTicks, '#ebebeb', 0.8);
  gridLines(gK, mids(kmXTicks), mids(kmYTicks), '#f2f2f2', 0.5);
  const medMax = Math.max(medianHigh[ri], medianLow[ri]);
  refLines(gK, [
    [{coord: [0, 0.5]}, {coord: [medMax, 0.5]}],
    [{coord: [medianHigh[ri], 0]}, {coord: [medianHigh[ri], 0.5]}],
    [{coord: [medianLow[ri], 0]}, {coord: [medianLow[ri], 0.5]}]
  ], '#222', 0.8, [3, 2], 3);
  series.push({name: 'High risk', type: 'line', step: 'end', xAxisIndex: gK, yAxisIndex: gK, data: R.kmH, symbol: 'none', silent: true, z: 5,
    lineStyle: {color: DARK, width: 1.2}, itemStyle: {color: DARK}});
  series.push({name: 'Low risk', type: 'line', step: 'end', xAxisIndex: gK, yAxisIndex: gK, data: R.kmL, symbol: 'none', silent: true, z: 5,
    lineStyle: {color: ORANGE, width: 1.2, type: [4, 2.5]}, itemStyle: {color: ORANGE}});
  series.push({name: 'High risk', type: 'scatter', xAxisIndex: gK, yAxisIndex: gK, data: R.cH, symbol: CROSS, symbolSize: 5, silent: true, z: 6, itemStyle: {color: DARK}});
  series.push({name: 'Low risk', type: 'scatter', xAxisIndex: gK, yAxisIndex: gK, data: R.cL, symbol: CROSS, symbolSize: 5, silent: true, z: 6, itemStyle: {color: ORANGE}});
  legends.push({left: 169, top: 30 + o, padding: 0, itemGap: 7, itemWidth: 11, itemHeight: 4.5, selectedMode: false,
    textStyle: {fontSize: 5.8, color: '#222', fontFamily: FONT, padding: [0, 0, 0, -2]},
    data: [{name: 'High risk', icon: ICON_H, itemStyle: {color: DARK}}, {name: 'Low risk', icon: ICON_L, itemStyle: {color: ORANGE}}]});
  txt(kmTitles[ri], 52, 17 + o, 8.5);
  txt('Survival probability', 20, 88 + o, 7, {rot: Math.PI / 2, align: 'center'});
  txt('Day', 150, 165 + o, 7.5, {align: 'center'});
  txt(pLabels[ri], 65, 124 + o, 9.5, {color: '#111'});

  // ---- risk table
  txt('Number at risk', 52, 180 + o, 8.5);
  const gT = addGrid({left: 52, top: 188 + o, width: 196, height: 24}, '#4d4d4d');
  xAxes.push(numAxis(gT, -250, 5200, kmXTicks, v => String(v), null, 5));
  yAxes.push({type: 'category', gridIndex: gT, data: ['Low risk', 'High risk'],
    axisLine: {show: false}, splitLine: {show: false},
    axisTick: {show: true, length: 2, alignWithLabel: true, lineStyle: {color: '#333', width: 0.6}},
    axisLabel: {fontSize: 5.5, margin: 2.5, fontFamily: FONT, color: v => (v === 'High risk' ? DARK : ORANGE)}});
  gridLines(gT, kmXTicks, ['High risk', 'Low risk'], '#ebebeb', 0.8);
  series.push({type: 'scatter', xAxisIndex: gT, yAxisIndex: gT, symbolSize: 1, silent: true, z: 5, itemStyle: {color: 'transparent'},
    data: riskTableTimes.map((t, i) => [t, 'High risk', R.atH[i]]),
    label: {show: true, position: 'inside', formatter: p => String(p.value[2]), color: DARK, fontSize: 8.5, fontFamily: FONT}});
  series.push({type: 'scatter', xAxisIndex: gT, yAxisIndex: gT, symbolSize: 1, silent: true, z: 5, itemStyle: {color: 'transparent'},
    data: riskTableTimes.map((t, i) => [t, 'Low risk', R.atL[i]]),
    label: {show: true, position: 'inside', formatter: p => String(p.value[2]), color: ORANGE, fontSize: 8.5, fontFamily: FONT}});
  txt('Day', 150, 225 + o, 7.5, {align: 'center'});

  // ---- risk score & survival time scatter
  const aliveR = [], deadR = [], aliveS = [], deadS = [];
  R.risk.forEach((v, i) => {
    const rank = i + 1;
    if (R.status[i] === '1') { deadR.push([rank, v]); deadS.push([rank, R.surv[i]]); }
    else { aliveR.push([rank, v]); aliveS.push([rank, R.surv[i]]); }
  });
  const gR = addGrid({left: 303, top: 25 + o, width: 187, height: 81}, null);
  xAxes.push(numAxis(gR, L.rank[0], L.rank[1], R.rankTicks, v => String(v), '#222', 5.5, 2));
  yAxes.push(numAxis(gR, L.risk[0], L.risk[1], R.riskTicks, v => (L.riskDec ? v.toFixed(1) : String(v)), '#222', 5.5));
  refLines(gR, [{xAxis: cutRank[ri]}], '#d0d0d0', 0.7, [2, 2], 2);
  series.push({name: 'Alive', type: 'scatter', xAxisIndex: gR, yAxisIndex: gR, data: aliveR, symbolSize: 2.2, silent: true, z: 5, itemStyle: {color: DARK}});
  series.push({name: 'Dead', type: 'scatter', xAxisIndex: gR, yAxisIndex: gR, data: deadR, symbolSize: 2.2, silent: true, z: 5, itemStyle: {color: ORANGE}});
  legends.push({left: 305, top: 26.5 + o, padding: 0, itemGap: 4, itemWidth: 3, itemHeight: 3, icon: 'circle', selectedMode: false,
    textStyle: {fontSize: 5.3, color: '#222', fontFamily: FONT, padding: [0, 0, 0, -3]}, data: ['Alive', 'Dead']});
  txt('Risk score', 290, 66 + o, 6.5, {rot: Math.PI / 2, align: 'center'});

  const gS = addGrid({left: 303, top: 114 + o, width: 187, height: 85}, '#9c9c9c');
  xAxes.push(numAxis(gS, L.rank[0], L.rank[1], R.rankTicks, v => String(v), null, 5.5));
  yAxes.push(numAxis(gS, -255, 5300, survTicks, v => String(v), null, 5.5));
  refLines(gS, [{xAxis: cutRank[ri]}], '#d0d0d0', 0.7, [2, 2], 2);
  series.push({name: 'Alive', type: 'scatter', xAxisIndex: gS, yAxisIndex: gS, data: aliveS, symbolSize: 4, silent: true, z: 5, itemStyle: {color: DARK}});
  series.push({name: 'Dead', type: 'scatter', xAxisIndex: gS, yAxisIndex: gS, data: deadS, symbolSize: 4, silent: true, z: 5, itemStyle: {color: ORANGE}});
  txt('Survival time (day)', 283, 157 + o, 6.3, {rot: Math.PI / 2, align: 'center'});
  txt('Rank', 396, 211 + o, 6.8, {align: 'center'});

  // ---- ROC
  const gC = addGrid({left: 542, top: 47 + o, width: 142, height: 130}, '#a8a8a8');
  xAxes.push(numAxis(gC, -0.05, 1.05, rocTicks, v => v.toFixed(2), null, 4));
  yAxes.push(numAxis(gC, -0.05, 1.05, rocTicks, v => v.toFixed(2), null, 4));
  gridLines(gC, rocTicks, rocTicks, '#ebebeb', 0.7);
  gridLines(gC, mids(rocTicks), mids(rocTicks), '#f3f3f3', 0.5);
  refLines(gC, [[{coord: [-0.05, -0.05]}, {coord: [1.05, 1.05]}]], '#555', 0.6, [2, 2], 3);
  const legendData = [];
  R.roc.forEach((d, k) => {
    const nm = rocYears[k] + ' year AUC: ' + R.auc[k];
    legendData.push({name: nm, icon: ICON_LINE, itemStyle: {color: ROC_COLORS[k]}});
    series.push({name: nm, type: 'line', xAxisIndex: gC, yAxisIndex: gC, data: d, symbol: 'none', silent: true, z: 5 + (k === 0 ? 2 : k === 2 ? 1 : 0),
      lineStyle: {color: ROC_COLORS[k], width: 0.9}, itemStyle: {color: ROC_COLORS[k]}});
  });
  legends.push({orient: 'vertical', left: 636, top: 144.5 + o, padding: 0, itemGap: 3, itemWidth: 6, itemHeight: 0.9, selectedMode: false,
    textStyle: {fontSize: 4.3, color: '#333', fontFamily: FONT, padding: [0, 0, 0, -1]}, data: legendData});
  txt('AUC', 633, 137 + o, 5, {color: '#222'});
  txt('TP', 527, 112 + o, 5, {rot: Math.PI / 2, align: 'center'});
  txt('FP', 613, 187 + o, 5, {align: 'center'});
});

const chart = echarts.init(document.getElementById('chart'), null, {renderer: 'canvas', width: 685, height: 737});
chart.setOption({
  animation: false,
  backgroundColor: '#ffffff',
  textStyle: {fontFamily: FONT},
  grid: grids, xAxis: xAxes, yAxis: yAxes,
  legend: legends, series: series, graphic: graphics
});
</script></body></html>
